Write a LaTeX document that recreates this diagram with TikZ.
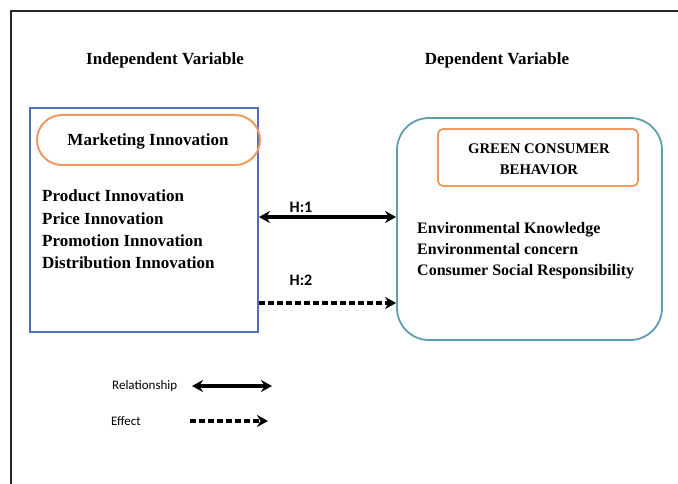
\documentclass[tikz,border=0pt]{standalone}
\usepackage{fontspec}
\setmainfont{Liberation Serif}
\newfontfamily\legendfont{Carlito}
\usetikzlibrary{arrows.meta}
\definecolor{boxblue}{HTML}{4F6FB8}
\definecolor{boxteal}{HTML}{5E9EB4}
\definecolor{ovorange}{HTML}{EE9A62}
\tikzset{
  titletext/.style={font=\bfseries\fontsize{17}{20}\selectfont, inner sep=0pt},
  itemtext/.style={font=\bfseries\fontsize{17}{22.3}\selectfont, inner sep=0pt, anchor=north west, align=left},
  ritemtext/.style={font=\bfseries\fontsize{16}{21}\selectfont, inner sep=0pt, anchor=north west, align=left},
  hlabel/.style={font=\legendfont\bfseries\fontsize{16}{18}\selectfont, inner sep=0pt},
  legtext/.style={font=\legendfont\fontsize{13}{15}\selectfont, inner sep=0pt, anchor=west},
  relarrow/.style={line width=3.2pt, {Stealth[length=11pt,width=12pt]}-{Stealth[length=11pt,width=12pt]}},
  effarrow/.style={line width=3.2pt, dash pattern=on 6pt off 3pt, -{Stealth[length=11pt,width=12pt]}},
}
\begin{document}
\begin{tikzpicture}[x=1pt,y=-1pt]
\useasboundingbox (0,0) rectangle (678,484);
% frame
\draw[line width=2.5pt, black!85] (11,484) -- (11,11) -- (678,11);
% titles
\node[titletext] (tind) at (165,60) {Independent Variable};
\node[titletext] (tdep) at (497,60) {Dependent Variable};
% left box
\node[draw=boxblue, line width=1.8pt, minimum width=228pt, minimum height=224pt, inner sep=0pt] (lbox) at (144,220) {};
\node[draw=ovorange, line width=2pt, rounded corners=25pt, minimum width=223pt, minimum height=50pt, inner sep=0pt] (mi) at (148.5,140) {};
\node[titletext] (mitext) at (148,141) {Marketing Innovation};
\node[itemtext] (litems) at (42,190) {Product Innovation\\Price Innovation\\Promotion Innovation\\Distribution Innovation};
% right box
\node[draw=boxteal, line width=1.8pt, rounded corners=32pt, minimum width=265pt, minimum height=222pt, inner sep=0pt] (rbox) at (529.5,229) {};
\node[draw=ovorange, line width=1.8pt, rounded corners=5pt, minimum width=200pt, minimum height=57pt, inner sep=0pt] (gcb) at (538,157.5) {};
\node[font=\bfseries\fontsize{14.7}{21}\selectfont, align=center, inner sep=0pt] (gcbtext) at (539,159.5) {GREEN CONSUMER\\BEHAVIOR};
\node[ritemtext] (ritems) at (417,222) {Environmental Knowledge\\Environmental concern\\Consumer Social Responsibility};
% connectors
\coordinate (h1l) at (lbox.east |- 0,217);
\coordinate (h1r) at (rbox.west |- 0,217);
\coordinate (h2l) at (lbox.east |- 0,303);
\coordinate (h2r) at (rbox.west |- 0,303);
\draw[relarrow] (h1l) -- (h1r);
\draw[effarrow] (h2l) -- (h2r);
\node[hlabel] (h1) at (301,207) {H:1};
\node[hlabel] (h2) at (301,280) {H:2};
% legend
\node[legtext] (lrel) at (112,386) {Relationship};
\node[legtext] (leff) at (111,421) {Effect};
\coordinate (ra) at (192,386);
\coordinate (rb) at (272,386);
\coordinate (ea) at (190,421);
\coordinate (eb) at (268,421);
\draw[relarrow] (ra) -- (rb);
\draw[effarrow] (ea) -- (eb);
\end{tikzpicture}
\end{document}
